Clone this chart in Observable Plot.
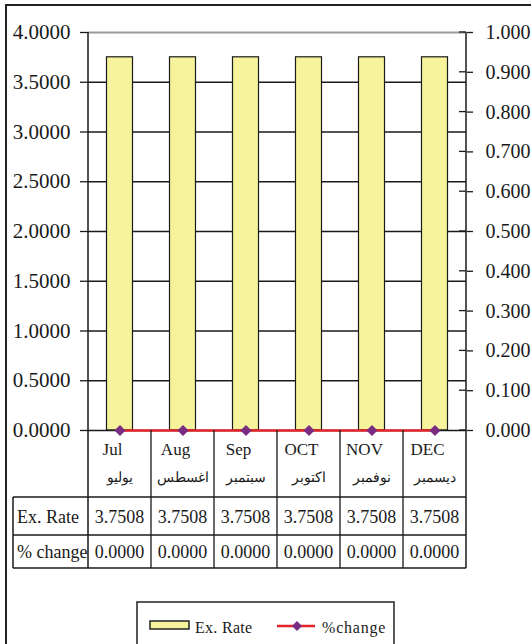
<!DOCTYPE html>
<html>
<head>
<meta charset="utf-8">
<script src="https://cdn.jsdelivr.net/npm/d3@7"></script>
<script src="https://cdn.jsdelivr.net/npm/@observablehq/plot@0.6"></script>
<style>
  html, body { margin: 0; padding: 0; background: #fff; }
  svg, svg text { font-family: "Liberation Serif", "Times New Roman", serif !important; }
</style>
</head>
<body>
<div id="chart"></div>
<script>
const months = ["Jul", "Aug", "Sep", "OCT", "NOV", "DEC"];
const monthsAr = ["يوليو", "اغسطس", "سبتمبر", "اكتوبر", "نوفمبر", "ديسمبر"];
const exRate = [3.7508, 3.7508, 3.7508, 3.7508, 3.7508, 3.7508];
const pctChange = [0.0000, 0.0000, 0.0000, 0.0000, 0.0000, 0.0000];
const leftTicks = [0, 0.5, 1, 1.5, 2, 2.5, 3, 3.5, 4];
const rightTicks = [0, 0.1, 0.2, 0.3, 0.4, 0.5, 0.6, 0.7, 0.8, 0.9, 1.0];
const rowLabels = ["Ex. Rate", "% change"];
const legendLabels = ["Ex. Rate", "%change"];

const data = months.map((m, i) => ({month: m, ar: monthsAr[i], rate: exRate[i], pct: pctChange[i]}));

const FONT = "Liberation Serif, Times New Roman, serif";
const BAR_FILL = "#f6f39c";
const LINE_RED = "#e3242b";
const DIAMOND = "#7a2b82";
const INK = "#1a1a1a";
const RIGHT_MAX = 1.0, LEFT_MAX = 4.0;
const k = LEFT_MAX / RIGHT_MAX;

function tableAndFrame(index, scales, values, dims) {
  const {x, y} = scales;
  const bw = x.bandwidth ? x.bandwidth() : (x(months[1]) - x(months[0]));
  const xl = dims.marginLeft;
  const xr = dims.width - dims.marginRight;
  const y0 = y(0), yTop = y(LEFT_MAX);
  const rowA = y0 + 67, rowB = y0 + 105, rowC = y0 + 138;
  const tableLeft = 13;
  const g = d3.create("svg:g").attr("fill", INK).attr("text-anchor", "start");

  // outer border
  g.append("path").attr("d", `M6,${dims.height + 5}V5H${dims.width + 5}`)
    .attr("fill", "none").attr("stroke", "#222").attr("stroke-width", 2);

  // axis lines (left + right) extending into table
  g.append("line").attr("x1", xl).attr("x2", xl).attr("y1", yTop).attr("y2", rowC)
    .attr("stroke", INK).attr("stroke-width", 1.5);
  g.append("line").attr("x1", xr).attr("x2", xr).attr("y1", yTop).attr("y2", rowC)
    .attr("stroke", INK).attr("stroke-width", 1.5);

  // right axis inward tick halves
  for (const r of rightTicks) {
    g.append("line").attr("x1", xr - 7).attr("x2", xr).attr("y1", y(r * k)).attr("y2", y(r * k))
      .attr("stroke", INK).attr("stroke-width", 1.3);
  }

  // band boundaries
  months.forEach((m, i) => {
    if (i === 0) return;
    const bx = x(m);
    g.append("line").attr("x1", bx).attr("x2", bx).attr("y1", y0).attr("y2", rowC)
      .attr("stroke", INK).attr("stroke-width", 1.3);
  });
  // table horizontals
  for (const ry of [rowA, rowB, rowC]) {
    g.append("line").attr("x1", tableLeft).attr("x2", xr).attr("y1", ry).attr("y2", ry)
      .attr("stroke", INK).attr("stroke-width", 1.5);
  }
  g.append("line").attr("x1", tableLeft).attr("x2", tableLeft).attr("y1", rowA).attr("y2", rowC)
    .attr("stroke", INK).attr("stroke-width", 1.5);

  // category labels and values
  data.forEach(d => {
    const cx = x(d.month) + bw / 2;
    g.append("text").attr("x", cx - 7).attr("y", y0 + 25).attr("text-anchor", "middle")
      .attr("font-size", 17).text(d.month);
    g.append("text").attr("x", cx).attr("y", y0 + 52).attr("text-anchor", "middle")
      .attr("font-size", 14).text(d.ar);
    g.append("text").attr("x", cx).attr("y", y0 + 93).attr("text-anchor", "middle")
      .attr("font-size", 18).text(d3.format(".4f")(d.rate));
    g.append("text").attr("x", cx).attr("y", y0 + 128).attr("text-anchor", "middle")
      .attr("font-size", 18).text(d3.format(".4f")(d.pct));
  });
  g.append("text").attr("x", 17).attr("y", y0 + 93).attr("font-size", 18).attr("text-anchor", "start").text(rowLabels[0]);
  g.append("text").attr("x", 17).attr("y", y0 + 128).attr("font-size", 18).attr("text-anchor", "start").text(rowLabels[1]);

  // legend
  const lx = 137, ly = 602;
  g.append("rect").attr("x", lx).attr("y", ly).attr("width", 257).attr("height", 80)
    .attr("fill", "none").attr("stroke", "#222").attr("stroke-width", 1.5);
  g.append("rect").attr("x", lx + 13).attr("y", ly + 19).attr("width", 39).attr("height", 8)
    .attr("fill", BAR_FILL).attr("stroke", "#222").attr("stroke-width", 1.5);
  g.append("text").attr("x", lx + 58).attr("y", ly + 31).attr("font-size", 16).attr("text-anchor", "start")
    .attr("letter-spacing", 0.3).text(legendLabels[0]);
  g.append("line").attr("x1", lx + 140).attr("x2", lx + 178).attr("y1", ly + 24).attr("y2", ly + 24)
    .attr("stroke", LINE_RED).attr("stroke-width", 2.5);
  g.append("path").attr("d", `M${lx + 160},${ly + 19}l5,5l-5,5l-5,-5z`).attr("fill", DIAMOND);
  g.append("text").attr("x", lx + 185).attr("y", ly + 31).attr("font-size", 16).attr("text-anchor", "start")
    .attr("letter-spacing", 0.8).text(legendLabels[1]);
  return g.node();
}

const chart = Plot.plot({
  width: 531,
  height: 644,
  marginLeft: 88,
  marginRight: 65,
  marginTop: 32,
  marginBottom: 214,
  style: {fontFamily: FONT, fontSize: "21px", background: "#fff", color: INK, overflow: "visible"},
  x: {type: "band", domain: months, padding: 0, axis: null},
  y: {domain: [0, LEFT_MAX]},
  marks: [
    Plot.ruleY(leftTicks.filter(t => t > 0 && t < LEFT_MAX), {stroke: INK, strokeWidth: 1.3}),
    Plot.ruleY([LEFT_MAX], {stroke: "#9a9a9a", strokeWidth: 1.8}),
    Plot.barY(data, {x: "month", y: "rate", fill: BAR_FILL, stroke: INK, strokeWidth: 1.2, insetLeft: 18.5, insetRight: 18.5}),
    Plot.ruleY([0], {stroke: INK, strokeWidth: 1.6}),
    Plot.axisY(leftTicks, {tickFormat: d => d.toFixed(4), tickSize: 8, tickPadding: 10, label: null, fontSize: 21, strokeWidth: 1.3}),
    Plot.axisY(rightTicks.map(r => r * k), {anchor: "right", tickFormat: d => (d / k).toFixed(3), tickSize: 6, tickPadding: 13, label: null, fontSize: 20, strokeWidth: 1.3}),
    Plot.lineY(data, {x: "month", y: d => d.pct * k, stroke: LINE_RED, strokeWidth: 2.5}),
    Plot.dot(data, {x: "month", y: d => d.pct * k, symbol: "diamond2", r: 5, fill: DIAMOND, stroke: null}),
    tableAndFrame
  ]
});
document.getElementById("chart").appendChild(chart);
</script>
</body>
</html>
